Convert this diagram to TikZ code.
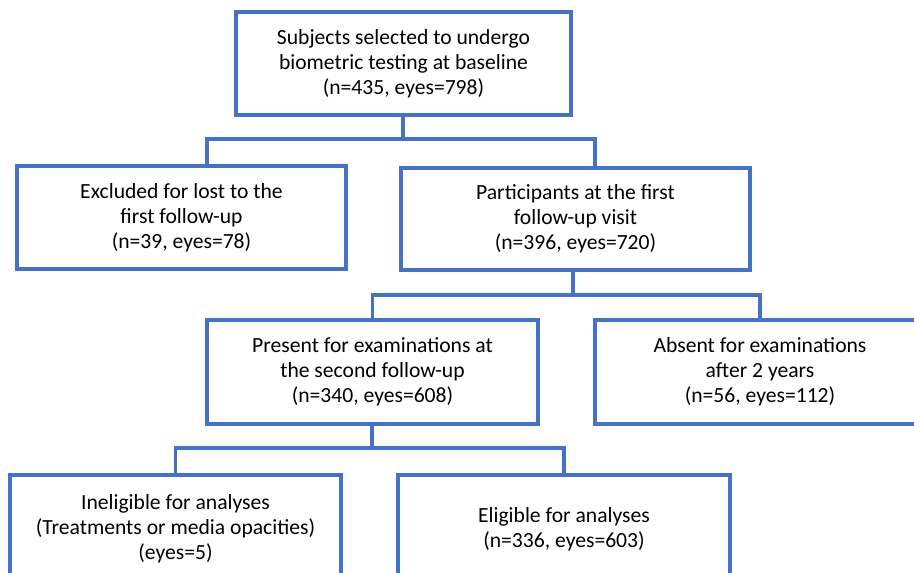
\documentclass[tikz,border=0pt]{standalone}
\usepackage{fontspec}
\setmainfont{Carlito}
\definecolor{boxblue}{RGB}{68,114,196}
\begin{document}
\begin{tikzpicture}[x=0.02cm, y=-0.02cm, box/.style={draw=boxblue, line width=1.9pt, align=center, minimum width=6.62cm, minimum height=2.06cm, inner sep=0pt, font=\fontsize{12.3}{14.2}\selectfont}, link/.style={draw=boxblue, line width=1.9pt}]
	\useasboundingbox (0,0) rectangle (914,573);
	\clip (0,0) rectangle (914,573);
	\node[box, minimum width=6.7cm] (Base) at (403.5,63.5) {Subjects selected to undergo\\biometric testing at baseline\\(n=435, eyes=798)};
	\node[box, minimum width=6.58cm] (Lost) at (181.5,217.5) {Excluded for lost to the\\first follow-up\\(n=39, eyes=78)};
	\node[box, minimum width=6.98cm, minimum height=2.04cm] (First) at (575.5,219) {Participants at the first\\follow-up visit\\(n=396, eyes=720)};
	\node[box, minimum height=2.08cm] (Second) at (372.5,372) {Present for examinations at\\the second follow-up\\(n=340, eyes=608)};
	\node[box, minimum width=6.6cm, minimum height=2.08cm] (Absent) at (760,372) {Absent for examinations\\after 2 years\\(n=56, eyes=112)};
	\node[box, minimum height=2.16cm] (Inel) at (175.5,529) {Ineligible for analyses\\(Treatments or media opacities)\\(eyes=5)};
	\node[box, minimum width=6.64cm, minimum height=2.16cm] (Elig) at (564,529) {Eligible for analyses\\(n=336, eyes=603)};
	\coordinate (J1) at (403,139);
	\coordinate (L1) at (207,166);
	\coordinate (R1) at (595,168);
	\coordinate (J2) at (573,295);
	\coordinate (J3) at (372,448);
	\draw[link] (Base.south -| J1) -- (J1) -| (L1);
	\draw[link] (J1) -| (R1);
	\draw[link] (First.south -| J2) -- (J2) -| (Second.north);
	\draw[link] (J2) -| (Absent.north);
	\draw[link] (Second.south -| J3) -- (J3) -| (Inel.north);
	\draw[link] (J3) -| (Elig.north);
\end{tikzpicture}
\end{document}
